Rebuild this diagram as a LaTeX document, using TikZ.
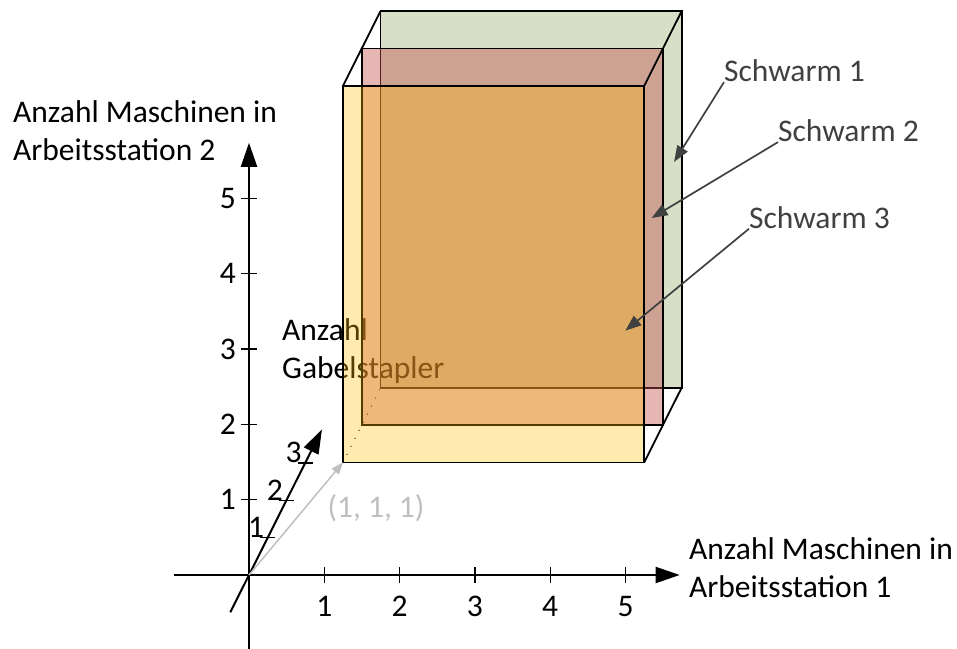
\documentclass[tikz,border=0pt]{standalone}
\usepackage{fontspec}
\setmainfont{Carlito}
\usetikzlibrary{arrows.meta}
\definecolor{swarmgreen}{HTML}{D7DFC7}
\definecolor{swarmred}{HTML}{C0504D}
\definecolor{swarmyellow}{HTML}{FFC000}
\definecolor{labelgray}{HTML}{404040}
\definecolor{pointgray}{HTML}{BFBFBF}
\tikzset{
  space/.style={shift={(249pt,73pt)}, x={(75.3pt,0pt)}, y={(0pt,75.3pt)}, z={(18.7pt,37.3pt)}},
  axis/.style={line width=2pt, -{Triangle[length=24pt,width=16pt]}},
  tick/.style={line width=1.4pt},
  slice/.style={draw=black, line width=1.8pt},
  callout/.style={draw=labelgray, line width=1.7pt, -{Triangle[length=16pt,width=12pt]}},
  lbl/.style={font=\fontsize{31.5}{37.7}\selectfont, inner sep=0pt}
}
\begin{document}
\begin{tikzpicture}[x=1pt,y=1pt]
\useasboundingbox (0,0) rectangle (957,648);
\begin{scope}[space]
  % axes
  \draw[axis] (-1,0,0) -- (5.72,0,0);
  \draw[axis] (0,-1,0) -- (0,5.74,0);
  \draw[axis] (0,0,-1) -- (0,0,3.9);
  \foreach \x in {1,...,5}
    \draw[tick] (\x,0.1,0) -- (\x,-0.1,0) node[lbl, anchor=center] (xl\x) at (\x,-0.42,0) {\x};
  \foreach \y in {1,...,5}
    \draw[tick] (-0.1,\y,0) -- (0.1,\y,0) node[lbl, anchor=center] (yl\y) at (-0.28,\y,0) {\y};
  \foreach \z in {1,2,3}
    \draw[tick] (-0.1,0,\z) -- (0.1,0,\z) node[lbl, anchor=center] (zl\z) at (-0.154,0.14,\z) {\z};
  % back slice
  \draw[slice, fill=swarmgreen] (1,1,3) -- (5,1,3) -- (5,6,3) -- (1,6,3) -- cycle;
\end{scope}
\node[lbl, align=left, anchor=north west] (zaxis) at (282,329.4) {Anzahl\\Gabelstapler};
\begin{scope}[space]
  \draw[line width=1.4pt, dash pattern=on 0pt off 9pt, line cap=round] (1,1,1) -- (1,1,3);
  \draw[slice, fill=swarmred, fill opacity=0.42] (1,1,2) -- (5,1,2) -- (5,6,2) -- (1,6,2) -- cycle;
  \draw[slice, fill=swarmyellow, fill opacity=0.32] (1,1,1) -- (5,1,1) -- (5,6,1) -- (1,6,1) -- cycle;
  \draw[slice] (1,6,1) -- (1,6,3);
  \draw[slice] (5,6,1) -- (5,6,3);
  \draw[slice] (5,1,1) -- (5,1,3);
  \coordinate (origin) at (0,0,0);
  \coordinate (corner) at (1,1,1);
  \coordinate (p1) at (4.9,4,3);
  \coordinate (p2) at (4.85,3.75,2);
  \coordinate (p3) at (4.75,2.75,1);
  \draw[pointgray, line width=1.5pt, -{Triangle[length=12pt,width=9pt]}] (origin) -- (corner);
\end{scope}
\node[lbl, pointgray] (cornerlbl) at (376,140) {(1, 1, 1)};
\node[lbl, align=left, anchor=north west] (xaxis) at (689,110.1) {Anzahl Maschinen in\\Arbeitsstation 1};
\node[lbl, align=left, anchor=north west] (yaxis) at (13,547.7) {Anzahl Maschinen in\\Arbeitsstation 2};
\node[lbl, labelgray, anchor=base west] (s1) at (724,566.3) {Schwarm 1};
\node[lbl, labelgray, anchor=base west] (s2) at (778,506.3) {Schwarm 2};
\node[lbl, labelgray, anchor=base west] (s3) at (749,419.7) {Schwarm 3};
\draw[callout] (s1.south west) -- (p1);
\draw[callout] (s2.south west) -- (p2);
\draw[callout] (s3.south west) -- (p3);
\end{tikzpicture}
\end{document}
